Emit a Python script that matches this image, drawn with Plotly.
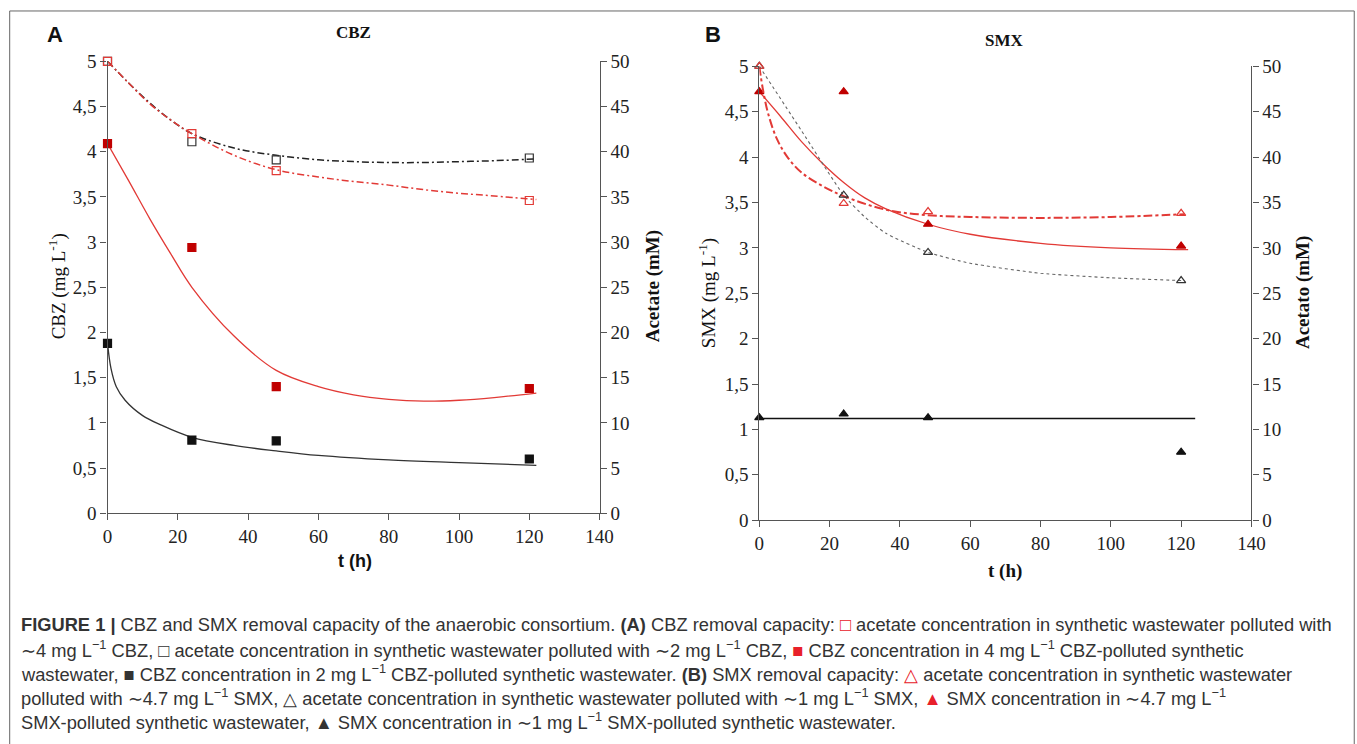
import plotly.graph_objects as go

# ---------------- data ----------------
t_pts = [0, 24, 48, 120]

# Panel A (CBZ)
A_ac4_pts = [50.0, 42.0, 37.9, 34.6]      # acetate (mM), ~4 mg/L CBZ (red open squares)
A_ac2_pts = [50.0, 41.1, 39.1, 39.3]      # acetate (mM), ~2 mg/L CBZ (black open squares)
A_cbz4_pts = [4.09, 2.94, 1.40, 1.38]     # CBZ (mg/L), 4 mg/L (red filled squares)
A_cbz2_pts = [1.88, 0.81, 0.80, 0.60]     # CBZ (mg/L), 2 mg/L (black filled squares)

A_fit_t = [0, 6, 12, 18, 24, 36, 48, 60, 70, 80, 90, 100, 110, 122]
A_fit_ac4 = [50.0, 47.6, 45.3, 43.5, 42.0, 39.6, 38.0, 37.2, 36.7, 36.3, 35.8, 35.4, 35.1, 34.7]
A_fit_ac2 = [50.0, 47.6, 45.4, 43.5, 42.0, 40.4, 39.6, 39.1, 38.9, 38.8, 38.8, 38.9, 39.0, 39.2]
A_fit_cbz4 = [4.09, 3.68, 3.26, 2.87, 2.50, 1.96, 1.58, 1.40, 1.31, 1.26, 1.24, 1.25, 1.28, 1.33]
A_fit2_t = [0, 1, 2.5, 5, 10, 15, 24, 36, 48, 60, 80, 100, 122]
A_fit_cbz2 = [1.88, 1.60, 1.40, 1.25, 1.08, 0.98, 0.84, 0.75, 0.69, 0.64, 0.59, 0.56, 0.53]

# Panel B (SMX)
B_ac47_pts = [50.0, 34.9, 34.0, 33.8]     # acetate (mM), ~4.7 mg/L SMX (red open triangles)
B_ac1_pts = [50.0, 35.8, 29.5, 26.4]      # acetate (mM), ~1 mg/L SMX (black open triangles)
B_smx47_pts = [4.72, 4.72, 3.26, 3.02]    # SMX (mg/L), ~4.7 (red filled triangles)
B_smx1_pts = [1.13, 1.17, 1.13, 0.75]     # SMX (mg/L), ~1 (black filled triangles)

B_fit_smx47_t = [0, 6, 12, 18, 24, 30, 36, 48, 60, 80, 100, 122]
B_fit_smx47 = [4.72, 4.45, 4.17, 3.93, 3.72, 3.55, 3.43, 3.26, 3.15, 3.05, 3.00, 2.98]
B_fit_ac47_t = [0, 1, 2.5, 5, 8, 12, 18, 24, 36, 48, 60, 80, 100, 121]
B_fit_ac47 = [50.0, 47.5, 44.8, 42.0, 40.0, 38.3, 36.8, 35.7, 34.2, 33.6, 33.4, 33.3, 33.4, 33.7]
B_fit_ac1_t = [0, 12, 24, 30, 36, 48, 60, 80, 100, 120]
B_fit_ac1 = [50.0, 42.9, 35.8, 33.4, 31.6, 29.5, 28.3, 27.2, 26.7, 26.4]
B_fit_smx1_t = [0, 124]
B_fit_smx1 = [1.12, 1.12]

left_ticks = [0, 0.5, 1, 1.5, 2, 2.5, 3, 3.5, 4, 4.5, 5]
right_ticks = [0, 5, 10, 15, 20, 25, 30, 35, 40, 45, 50]
x_ticks = [0, 20, 40, 60, 80, 100, 120, 140]

# ---------------- style ----------------
W, H = 1357, 744
RED_M = "#C00000"
RED_L = "#E23A36"
BLK = "#111111"
AX = "#555555"
SERIF = "Liberation Serif, Times New Roman, serif"
SANS = "Liberation Sans, Arial, sans-serif"
DASHDOT = "7px,3px,2px,3px"

# map target screen pixel -> paper fraction (calibrated for the capture)
def px_x(p):
    return ((p - 3.3) / 0.9878) / W

def px_y(p):
    return 1 - ((p - 9.6) / 0.974) / H

fig = go.Figure()

def line(x, y, xa, ya, color, dash, width, shape="spline", smoothing=1.0):
    fig.add_trace(go.Scatter(x=x, y=y, xaxis=xa, yaxis=ya, mode="lines",
                             line=dict(color=color, dash=dash, width=width, shape=shape, smoothing=smoothing),
                             hoverinfo="skip", showlegend=False, cliponaxis=False))

def pts(x, y, xa, ya, symbol, color, size=8, fill=None):
    fig.add_trace(go.Scatter(x=x, y=y, xaxis=xa, yaxis=ya, mode="markers",
                             marker=dict(symbol=symbol, size=size, color=fill if fill else color,
                                         line=dict(color=color, width=1.2)),
                             showlegend=False, cliponaxis=False))

# Panel A
line(A_fit_t, A_fit_ac2, "x", "y2", "#222222", DASHDOT, 1.5)
line(A_fit_t, A_fit_ac4, "x", "y2", RED_L, DASHDOT, 1.5)
line(A_fit_t, A_fit_cbz4, "x", "y", RED_L, "solid", 1.3)
line(A_fit2_t, A_fit_cbz2, "x", "y", "#333333", "solid", 1.3)
pts(t_pts, A_ac2_pts, "x", "y2", "square-open", "#333333")
pts(t_pts, A_ac4_pts, "x", "y2", "square-open", RED_L)
pts(t_pts, A_cbz4_pts, "x", "y", "square", RED_M)
pts(t_pts, A_cbz2_pts, "x", "y", "square", BLK)

# Panel B
line(B_fit_ac1_t, B_fit_ac1, "x2", "y4", "#666666", "dot", 1.1, smoothing=0.5)
line(B_fit_ac47_t, B_fit_ac47, "x2", "y4", RED_L, "dashdot", 2)
line(B_fit_smx47_t, B_fit_smx47, "x2", "y3", RED_L, "solid", 1.3)
line(B_fit_smx1_t, B_fit_smx1, "x2", "y3", BLK, "solid", 1.6, shape="linear")
pts(t_pts, B_ac1_pts, "x2", "y4", "triangle-up-open", "#333333", size=8)
pts(t_pts, B_ac47_pts, "x2", "y4", "triangle-up-open", RED_L, size=8)
pts(t_pts, B_smx47_pts, "x2", "y3", "triangle-up", RED_M, size=8)
pts(t_pts, B_smx1_pts, "x2", "y3", "triangle-up", BLK, size=8)

axis_common = dict(showline=True, linecolor=AX, linewidth=1.2, ticks="outside", ticklen=6,
                   tickcolor=AX, tickwidth=1.2, showgrid=False, zeroline=False,
                   tickfont=dict(family=SERIF, size=19, color="#222222"))

A_dom_x = [px_x(106), px_x(599)]
A_dom_y = [px_y(514), px_y(61)]
B_dom_x = [px_x(759), px_x(1252)]
B_dom_y = [px_y(521), px_y(66)]

fig.update_layout(
    width=W, height=H, margin=dict(l=0, r=0, t=0, b=0),
    paper_bgcolor="white", plot_bgcolor="white",
    separators=", ",
    xaxis=dict(domain=A_dom_x, range=[0, 140], tickvals=x_ticks, anchor="y", **axis_common),
    yaxis=dict(domain=A_dom_y, range=[0, 5], tickvals=left_ticks, anchor="x", **axis_common),
    yaxis2=dict(range=[0, 50], tickvals=right_ticks, overlaying="y", side="right", anchor="x", **axis_common),
    xaxis2=dict(domain=B_dom_x, range=[0, 140], tickvals=x_ticks, anchor="y3", **axis_common),
    yaxis3=dict(domain=B_dom_y, range=[0, 5], tickvals=left_ticks, anchor="x2", **axis_common),
    yaxis4=dict(range=[0, 50], tickvals=right_ticks, overlaying="y3", side="right", anchor="x2", **axis_common),
)

ann = []
def text(x, y, s, size, family, color="#111111", angle=0, xanchor="center"):
    ann.append(dict(x=px_x(x), y=px_y(y), xref="paper", yref="paper", text=s, showarrow=False,
                    font=dict(family=family, size=size, color=color), textangle=angle,
                    xanchor=xanchor, yanchor="middle"))

text(53, 34, "<b>A</b>", 22, SANS)
text(713, 34, "<b>B</b>", 22, SANS)
text(352, 32, "<b>CBZ</b>", 17, SERIF)
text(1005, 40, "<b>SMX</b>", 17, SERIF)
text(56, 287, "CBZ (mg L<sup>-1</sup>)", 19, SERIF, angle=-90)
text(652, 287, "<b>Acetate (mM)</b>", 19, SERIF, angle=-90)
text(707, 293, "SMX (mg L<sup>-1</sup>)", 19, SERIF, angle=-90)
text(1303, 293, "<b>Acetato (mM)</b>", 19, SERIF, angle=-90)
text(354, 562, "<b>t (h)</b>", 18, SANS)
text(1005, 572, "<b>t (h)</b>", 19, SERIF)

CAP = "Liberation Sans, Arial, sans-serif"
red = lambda s: f"<span style='color:#E8202A'>{s}</span>"
sup = "L<sup>−1</sup>"
caption = [
    f"<b>FIGURE 1 |</b> CBZ and SMX removal capacity of the anaerobic consortium. <b>(A)</b> CBZ removal capacity: {red('□')} acetate concentration in synthetic wastewater polluted with",
    f"∼4 mg {sup} CBZ, □ acetate concentration in synthetic wastewater polluted with ∼2 mg {sup} CBZ, {red('■')} CBZ concentration in 4 mg {sup} CBZ-polluted synthetic",
    f"wastewater, ■ CBZ concentration in 2 mg {sup} CBZ-polluted synthetic wastewater. <b>(B)</b> SMX removal capacity: {red('△')} acetate concentration in synthetic wastewater",
    f"polluted with ∼4.7 mg {sup} SMX, △ acetate concentration in synthetic wastewater polluted with ∼1 mg {sup} SMX, {red('▲')} SMX concentration in ∼4.7 mg {sup}",
    f"SMX-polluted synthetic wastewater, ▲ SMX concentration in ∼1 mg {sup} SMX-polluted synthetic wastewater.",
]
for i, line_txt in enumerate(caption):
    text(17, 626 + i * 24, line_txt, 18.3, CAP, color="#333333", xanchor="left")

fig.update_layout(annotations=ann)
fig.add_shape(type="rect", xref="paper", yref="paper", x0=px_x(8), x1=px_x(1355),
              y0=-0.05, y1=1 - 1.0 / H, line=dict(color="#666666", width=1))

fig.write_html("out.html", config={"displayModeBar": False},
               post_script="document.body.style.margin='0';document.body.style.overflow='hidden';")
